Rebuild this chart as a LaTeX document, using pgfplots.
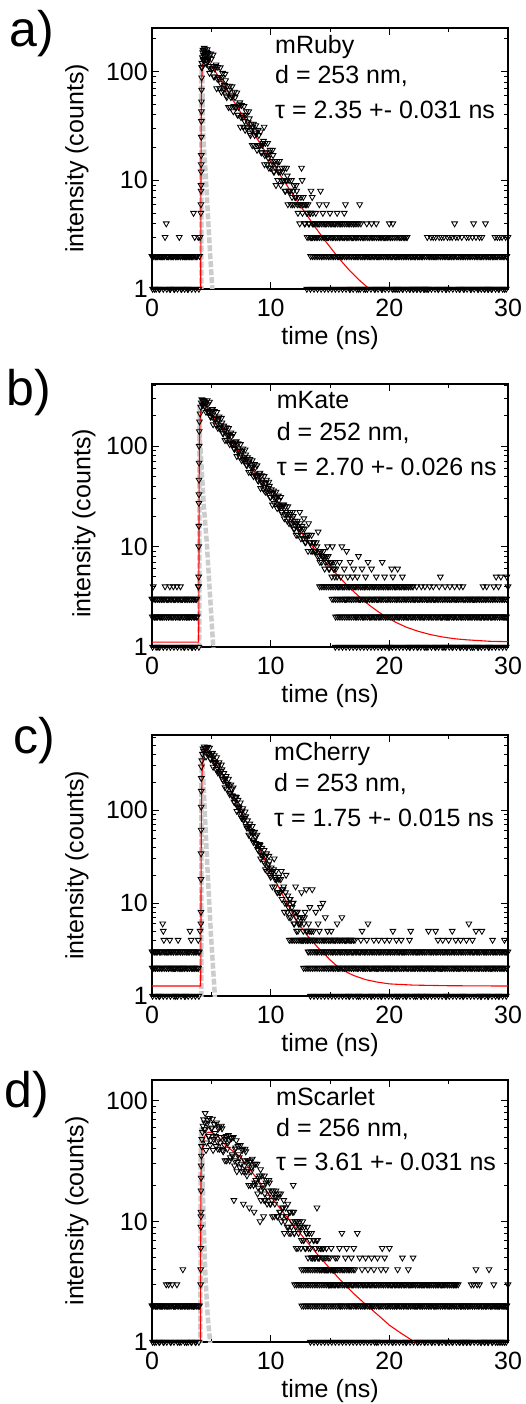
\documentclass[border=0pt]{standalone}
\usepackage{fontspec}
\setmainfont{Liberation Sans}
\usepackage{pgfplots}
\usepackage{pgfplotstable}
\pgfplotsset{compat=1.18}

\pgfplotstableread[row sep=\\]{t y\\
0 2\\0.1 2\\0.2 1\\0.3 2\\0.4 2\\0.5 2\\0.6 1\\0.7 2\\0.8 2\\0.9 2\\
1.0 2\\1.1 3\\1.2 4\\1.3 2\\1.4 2\\1.5 1\\1.6 2\\1.7 2\\1.8 2\\1.9 1\\
2.0 2\\2.1 2\\2.2 2\\2.3 3\\2.4 2\\2.5 1\\2.6 2\\2.7 2\\2.8 2\\2.9 2\\
3.0 1\\3.1 2\\3.2 2\\3.3 2\\3.4 2\\3.5 5\\3.6 3\\3.7 2\\3.8 2\\3.9 3\\4.0 2\\4.05 3\\
4.12 5\\4.125 6\\4.13 8\\4.135 9\\4.14 12\\4.145 14\\4.15 17\\4.155 25\\4.16 35\\4.165 43\\4.17 53\\4.175 68\\4.18 88\\4.185 109\\
4.2 120\\4.25 135\\4.3 158\\4.35 142\\4.4 165\\4.45 138\\4.5 150\\4.55 128\\4.6 145\\4.65 160\\4.7 132\\
4.22 110\\4.28 150\\4.32 128\\4.38 155\\4.42 130\\4.48 160\\4.52 140\\4.58 118\\4.62 152\\4.68 125\\4.72 148\\4.78 112\\
4.8 134\\4.9 107\\5.0 131\\5.1 107\\5.2 90\\5.3 106\\5.4 116\\5.5 86\\5.6 89\\5.7 70\\
5.8 78\\5.9 89\\6.0 67\\6.1 75\\6.2 83\\6.3 58\\6.4 64\\6.5 68\\6.6 47\\6.7 61\\
6.8 59\\6.9 48\\7.0 58\\7.1 47\\7.2 40\\7.3 47\\7.4 52\\7.5 38\\7.6 40\\7.7 31\\
7.8 35\\7.9 40\\8.0 30\\8.1 34\\8.2 37\\8.3 26\\8.4 29\\8.5 31\\8.6 21\\8.7 28\\
8.8 27\\8.9 21\\9.0 26\\9.1 21\\9.2 18\\9.3 21\\9.4 23\\9.45 31\\9.5 17\\9.6 18\\9.7 14\\
9.8 16\\9.9 18\\10.0 13\\10.1 15\\10.2 17\\10.3 12\\10.4 13\\10.5 14\\10.6 10\\10.7 12\\
10.8 12\\10.9 10\\11.0 12\\11.1 10\\11.2 8\\11.3 10\\11.35 13\\11.4 11\\11.5 8\\11.6 8\\11.7 6\\
11.8 7\\11.9 8\\12.0 6\\12.1 7\\12.2 8\\12.3 5\\12.4 6\\12.5 6\\12.6 13\\12.65 10\\12.7 6\\
12.8 6\\12.9 4\\13.0 6\\13.1 5\\13.2 4\\13.3 5\\13.4 8\\13.5 7\\13.6 4\\13.7 3\\
13.8 5\\13.9 3\\14.0 4\\14.1 6\\14.2 8\\14.3 2\\14.4 5\\14.5 3\\14.6 4\\14.7 6\\
14.8 3\\14.9 2\\15.0 5\\15.1 4\\15.2 3\\15.3 2\\15.4 4\\15.5 3\\15.6 5\\15.7 2\\
15.8 3\\15.9 4\\16.0 2\\16.1 3\\16.2 5\\16.3 6\\16.4 2\\16.5 3\\16.6 4\\16.7 1\\
16.8 2\\16.9 3\\17.0 4\\17.1 2\\17.2 3\\17.3 2\\17.4 1\\17.5 6\\17.6 4\\17.7 2\\
17.8 3\\17.9 2\\18.0 1\\18.1 4\\18.2 2\\18.3 3\\18.4 2\\18.5 4\\18.6 3\\18.7 2\\
18.8 1\\18.9 4\\19.0 2\\19.1 3\\19.2 2\\19.3 3\\19.4 1\\19.5 2\\19.6 3\\19.7 2\\
19.8 3\\19.9 2\\20.0 4\\20.1 3\\20.2 2\\20.3 4\\20.4 1\\20.5 2\\20.6 2\\20.7 1\\
20.8 2\\20.9 3\\21.0 2\\21.1 1\\21.2 2\\21.3 3\\21.4 2\\21.5 3\\21.6 2\\21.7 1\\
21.8 2\\21.9 2\\22.0 1\\22.1 2\\22.2 2\\22.3 1\\22.4 2\\22.5 2\\22.6 1\\22.7 2\\
22.8 2\\22.9 1\\23.1 1\\23.2 3\\23.3 1\\23.4 2\\23.5 3\\23.6 2\\23.7 3\\
23.8 2\\23.9 3\\24.0 2\\24.1 1\\24.2 3\\24.3 2\\24.4 3\\24.5 2\\24.6 3\\24.7 2\\
24.8 1\\24.9 3\\25.0 2\\25.1 3\\25.2 2\\25.3 3\\25.4 2\\25.5 4\\25.6 3\\25.7 2\\
25.8 3\\25.9 1\\26.0 2\\26.1 3\\26.2 2\\26.3 1\\26.4 2\\26.5 3\\26.6 2\\26.7 3\\
26.8 2\\26.9 1\\27.0 3\\27.1 4\\27.2 2\\27.3 3\\27.4 2\\27.5 1\\27.6 3\\27.7 2\\
27.8 3\\27.9 2\\28.0 1\\28.1 4\\28.2 2\\28.3 1\\28.4 2\\28.5 2\\28.6 1\\28.7 2\\
28.8 2\\28.9 3\\29.0 2\\29.1 3\\29.2 1\\29.3 3\\29.4 2\\29.5 3\\29.6 2\\29.7 1\\
29.8 3\\29.9 2\\30.0 3\\
}\dataA

\pgfplotstableread[row sep=\\]{t y\\
4.85 97\\4.95 146\\5.05 106\\5.15 143\\5.25 90\\5.35 112\\5.45 70\\5.55 110\\5.65 86\\5.75 109\\
5.85 65\\5.95 97\\6.05 70\\6.15 95\\6.25 60\\6.35 74\\6.45 47\\6.55 74\\6.65 58\\6.75 73\\
6.85 43\\6.95 65\\7.05 47\\7.15 64\\7.25 40\\7.35 50\\7.45 31\\7.55 49\\7.65 38\\7.75 48\\
7.85 29\\7.95 43\\8.05 31\\8.15 43\\8.25 27\\8.35 33\\8.45 21\\8.55 33\\8.65 26\\8.75 32\\
8.85 19\\8.95 29\\9.05 21\\9.15 28\\9.25 18\\9.35 22\\9.48 14\\9.55 22\\9.65 17\\9.75 22\\
9.85 13\\9.95 19\\10.05 14\\10.15 19\\10.25 12\\10.35 15\\10.45 9\\10.55 15\\10.65 12\\10.75 15\\
10.85 9\\10.95 13\\11.05 10\\11.15 13\\11.25 8\\11.38 10\\11.45 6\\11.55 10\\11.65 8\\11.75 10\\
11.85 6\\11.95 9\\12.05 7\\12.15 9\\12.25 6\\12.35 7\\12.45 4\\12.55 7\\12.68 5\\12.75 7\\
12.85 4\\12.95 6\\13.05 5\\13.15 6\\13.25 4\\13.35 5\\13.45 3\\13.55 5\\
}\dataAii

\pgfplotstableread[row sep=\\]{t y\\
0 3\\0.1 4\\0.2 2\\0.3 3\\0.4 2\\0.5 1\\0.6 3\\0.7 2\\0.8 3\\0.9 2\\
1.0 3\\1.1 4\\1.2 2\\1.3 3\\1.4 2\\1.5 4\\1.6 3\\1.7 2\\1.8 4\\1.9 3\\
2.0 2\\2.1 4\\2.2 3\\2.3 2\\2.4 4\\2.5 3\\2.6 2\\2.7 1\\2.8 3\\2.9 2\\
3.0 3\\3.1 2\\3.2 3\\3.3 2\\3.4 1\\3.5 3\\3.6 2\\3.7 3\\3.8 2\\3.9 4\\
3.93 4\\3.935 5\\3.94 10\\3.945 16\\3.95 27\\3.955 33\\3.96 46\\3.965 68\\3.97 100\\3.98 140\\
4.0 175\\4.05 210\\4.1 245\\4.15 270\\4.2 290\\4.25 255\\4.3 285\\4.35 262\\4.4 280\\4.45 250\\
4.5 269\\4.6 230\\4.7 262\\4.8 222\\4.9 199\\5.0 219\\5.1 232\\5.2 188\\5.3 191\\5.4 162\\
5.5 170\\5.6 184\\5.7 150\\5.8 162\\5.9 171\\6.0 133\\6.1 141\\6.2 145\\6.3 115\\6.4 132\\
6.5 129\\6.6 110\\6.7 125\\6.8 107\\6.9 95\\7.0 105\\7.1 111\\7.2 90\\7.3 92\\7.4 78\\
7.5 82\\7.6 89\\7.7 72\\7.8 78\\7.9 82\\8.0 64\\8.1 68\\8.2 70\\8.3 55\\8.4 64\\
8.5 62\\8.6 53\\8.7 61\\8.8 51\\8.9 46\\9.0 51\\9.1 54\\9.2 44\\9.3 44\\9.4 37\\
9.5 39\\9.6 43\\9.7 35\\9.8 38\\9.9 40\\10.0 31\\10.1 33\\10.2 34\\10.3 27\\10.4 31\\
10.5 30\\10.6 26\\10.7 29\\10.8 25\\10.9 22\\11.0 25\\11.1 26\\11.2 21\\11.3 22\\11.4 18\\
11.5 19\\11.6 21\\11.7 17\\11.8 19\\11.9 20\\12.0 15\\12.1 16\\12.2 17\\12.3 13\\12.4 15\\
12.45 22\\12.5 15\\12.6 13\\12.7 15\\12.8 19\\12.9 11\\13.0 12\\13.1 13\\13.2 17\\13.3 11\\13.4 9\\
13.5 10\\13.6 11\\13.7 9\\13.8 9\\13.9 10\\14.0 14\\14.1 8\\14.2 9\\14.3 7\\14.4 8\\
14.5 8\\14.6 7\\14.7 8\\14.8 10\\14.9 6\\15.0 7\\15.1 7\\15.2 10\\15.3 6\\15.4 5\\
15.5 6\\15.6 5\\15.7 4\\15.8 7\\15.9 5\\16.0 10\\16.1 4\\16.2 6\\16.3 3\\16.4 9\\
16.5 5\\16.6 4\\16.7 7\\16.8 3\\16.9 5\\17.0 6\\17.1 4\\17.2 2\\17.3 5\\17.4 8\\
17.5 3\\17.6 4\\17.7 6\\17.8 2\\17.9 4\\18.0 5\\18.1 3\\18.2 7\\18.3 4\\18.4 2\\
18.5 6\\18.6 3\\18.7 4\\18.8 2\\18.9 5\\19.0 3\\19.1 4\\19.2 2\\19.3 3\\19.4 7\\
19.5 4\\19.6 5\\19.7 2\\19.8 3\\19.9 4\\20.0 1\\20.1 3\\20.2 6\\20.3 5\\20.4 2\\
20.5 4\\20.6 3\\20.7 6\\20.8 2\\20.9 4\\21.0 3\\21.1 5\\21.2 2\\21.3 4\\21.4 3\\
21.5 2\\21.6 4\\21.7 1\\21.8 3\\21.9 2\\22.0 4\\22.1 3\\22.2 2\\22.3 4\\22.4 1\\
22.5 3\\22.6 2\\22.7 4\\22.8 3\\22.9 2\\23.0 4\\23.1 1\\23.2 3\\23.3 2\\23.4 4\\
23.5 3\\23.6 2\\23.7 4\\23.8 3\\23.9 1\\24.0 2\\24.1 3\\24.2 4\\24.3 5\\24.4 2\\
24.5 3\\24.6 1\\24.7 4\\24.8 2\\24.9 3\\25.0 2\\25.1 4\\25.2 3\\25.3 1\\25.4 2\\
25.5 4\\25.6 3\\25.7 2\\25.8 3\\25.9 4\\26.0 1\\26.1 2\\26.2 4\\26.3 3\\26.4 2\\
26.5 1\\26.6 3\\26.7 2\\26.8 3\\26.9 2\\27.0 1\\27.1 3\\27.2 2\\27.3 3\\27.4 2\\
27.5 1\\27.6 3\\27.7 2\\27.8 3\\27.9 4\\28.0 2\\28.1 3\\28.2 4\\28.3 2\\28.4 1\\
28.5 3\\28.6 2\\28.7 3\\28.8 4\\28.9 2\\29.0 5\\29.1 3\\29.2 4\\29.3 2\\29.4 5\\
29.5 3\\29.6 2\\29.7 3\\29.8 2\\29.9 5\\30.0 4\\
}\dataB

\pgfplotstableread[row sep=\\]{t y\\
4.55 218\\4.65 284\\4.75 221\\4.85 275\\4.95 194\\5.05 230\\5.15 164\\5.25 222\\5.35 185\\5.45 217\\
5.55 151\\5.65 196\\5.75 153\\5.85 190\\5.95 135\\6.05 159\\6.15 114\\6.25 153\\6.35 128\\6.45 150\\
6.55 104\\6.65 136\\6.75 106\\6.85 132\\6.95 93\\7.05 110\\7.15 79\\7.25 106\\7.35 89\\7.45 104\\
7.55 72\\7.65 94\\7.75 74\\7.85 92\\7.95 65\\8.05 77\\8.15 55\\8.25 74\\8.35 62\\8.45 72\\
8.55 50\\8.65 66\\8.75 51\\8.85 64\\8.95 45\\9.05 53\\9.15 38\\9.25 51\\9.35 43\\9.45 50\\
9.55 35\\9.65 46\\9.75 36\\9.85 44\\9.95 31\\10.05 37\\10.15 26\\10.25 36\\10.35 30\\10.45 35\\
10.55 24\\10.65 32\\10.75 25\\10.85 31\\10.95 22\\11.05 26\\11.15 19\\11.25 25\\11.35 21\\11.45 25\\
11.55 17\\11.65 22\\11.75 17\\11.85 22\\11.95 15\\12.05 18\\12.15 13\\12.25 18\\12.35 15\\12.48 17\\
12.55 12\\12.65 16\\12.75 12\\12.85 15\\12.95 11\\13.05 13\\13.15 9\\13.25 13\\13.35 11\\13.45 13\\
13.55 9\\13.65 11\\13.75 9\\13.85 11\\13.95 8\\14.05 9\\14.15 7\\14.25 9\\14.35 8\\14.45 9\\
14.55 6\\14.65 8\\14.75 7\\14.85 8\\14.95 6\\15.05 7\\15.15 5\\15.25 7\\15.35 6\\15.45 7\\
}\dataBii

\pgfplotstableread[row sep=\\]{t y\\
0 3\\0.1 2\\0.2 3\\0.3 2\\0.4 3\\0.5 2\\0.6 1\\0.7 3\\0.8 2\\0.9 6\\0.95 5\\
1.0 4\\1.1 3\\1.2 2\\1.3 3\\1.4 2\\1.5 4\\1.6 3\\1.7 2\\1.8 3\\1.9 2\\
2.0 1\\2.1 3\\2.2 4\\2.3 2\\2.4 3\\2.5 2\\2.6 3\\2.7 2\\2.8 1\\2.9 3\\
3.0 2\\3.1 3\\3.2 5\\3.3 4\\3.4 2\\3.5 3\\3.6 2\\3.7 3\\3.8 2\\3.9 4\\4.0 3\\4.05 5\\
4.12 6\\4.125 8\\4.13 18\\4.135 34\\4.14 61\\4.145 108\\4.15 160\\4.155 219\\4.16 292\\
4.2 340\\4.25 400\\4.3 455\\4.35 430\\4.4 480\\4.45 460\\
4.5 462\\4.6 411\\4.7 473\\4.8 403\\4.9 358\\5.0 391\\5.1 409\\5.2 328\\5.3 328\\5.4 275\\
5.5 285\\5.6 306\\5.7 245\\5.8 261\\5.9 272\\6.0 207\\6.1 217\\6.2 218\\6.3 169\\6.4 190\\
6.5 182\\6.6 152\\6.7 169\\6.8 141\\6.9 123\\7.0 133\\7.1 137\\7.2 109\\7.3 108\\7.4 90\\
7.5 92\\7.6 98\\7.7 78\\7.8 82\\7.9 85\\8.0 64\\8.1 67\\8.2 67\\8.3 52\\8.4 59\\
8.5 56\\8.6 47\\8.7 52\\8.8 43\\8.9 38\\9.0 41\\9.1 42\\9.2 33\\9.3 33\\9.4 28\\
9.5 27\\9.6 32\\9.7 22\\9.8 26\\9.9 28\\10.0 19\\10.1 21\\10.2 22\\10.3 30\\10.35 15\\10.4 19\\
10.5 18\\10.6 13\\10.7 18\\10.8 13\\10.9 22\\11.0 14\\11.1 15\\11.2 10\\11.3 20\\11.35 10\\11.4 8\\
11.5 9\\11.6 11\\11.7 7\\11.8 9\\11.9 10\\12.0 6\\12.1 15\\12.15 7\\12.2 8\\12.3 5\\12.4 6\\
12.5 6\\12.6 13\\12.65 7\\12.7 4\\12.8 6\\12.9 8\\13.0 14\\13.05 5\\13.1 4\\13.2 6\\13.3 9\\13.4 5\\
13.5 14\\13.6 5\\13.7 4\\13.8 8\\13.9 3\\14.0 6\\14.1 5\\14.2 9\\14.3 3\\14.4 10\\
14.5 4\\14.6 7\\14.7 3\\14.8 5\\14.9 2\\15.0 4\\15.1 5\\15.2 3\\15.3 2\\15.4 4\\
15.5 3\\15.6 6\\15.7 2\\15.8 4\\15.9 3\\16.0 7\\16.1 2\\16.2 3\\16.3 4\\16.4 2\\
16.5 3\\16.6 1\\16.7 4\\16.8 2\\16.9 3\\17.0 2\\17.1 4\\17.2 3\\17.3 2\\17.4 1\\
17.5 3\\17.6 4\\17.7 5\\17.8 2\\17.9 3\\18.0 2\\18.1 4\\18.2 6\\18.3 3\\18.4 2\\
18.5 1\\18.6 3\\18.7 4\\18.8 2\\18.9 3\\19.0 2\\19.1 4\\19.2 3\\19.3 1\\19.4 2\\
19.5 3\\19.6 4\\19.7 2\\19.8 3\\19.9 2\\20.0 4\\20.1 3\\20.2 2\\20.3 5\\20.4 3\\
20.5 2\\20.6 4\\20.7 1\\20.8 3\\20.9 2\\21.0 4\\21.1 3\\21.2 2\\21.3 3\\21.4 1\\
21.5 2\\21.6 3\\21.7 4\\21.8 5\\21.9 2\\22.0 3\\22.1 2\\22.2 1\\22.3 3\\22.4 2\\
22.5 3\\22.6 2\\22.7 1\\22.8 3\\22.9 2\\23.0 3\\23.1 2\\23.2 1\\23.3 5\\23.4 2\\
23.5 3\\23.6 2\\23.7 3\\23.8 2\\23.9 5\\24.0 3\\24.1 4\\24.2 2\\24.3 3\\24.4 2\\
24.5 4\\24.6 3\\24.7 2\\24.8 1\\24.9 3\\25.0 4\\25.1 2\\25.2 3\\25.3 5\\25.4 2\\
25.5 3\\25.6 4\\25.7 2\\25.8 3\\25.9 2\\26.0 4\\26.1 3\\26.2 1\\26.3 2\\26.4 3\\
26.5 4\\26.6 2\\26.7 6\\26.8 3\\26.9 2\\27.0 4\\27.1 3\\27.2 2\\27.3 5\\27.4 3\\
27.5 2\\27.6 3\\27.7 1\\27.8 5\\27.9 2\\28.0 3\\28.1 2\\28.2 3\\28.3 1\\28.4 2\\
28.5 3\\28.6 2\\28.7 4\\28.8 3\\28.9 2\\29.0 3\\29.1 2\\29.2 1\\29.3 3\\29.4 2\\
29.5 3\\29.6 2\\29.7 4\\29.8 3\\29.9 2\\30.0 3\\
}\dataC

\pgfplotstableread[row sep=\\]{t y\\
4.55 374\\4.65 477\\4.75 400\\4.85 465\\4.95 350\\5.05 410\\5.15 290\\5.25 386\\5.35 318\\5.45 368\\
5.55 252\\5.65 325\\5.75 250\\5.85 307\\5.95 214\\6.05 248\\6.15 175\\6.25 231\\6.35 188\\6.45 216\\
6.55 147\\6.65 187\\6.75 143\\6.85 174\\6.95 121\\7.05 139\\7.15 97\\7.25 128\\7.35 105\\7.45 120\\
7.55 82\\7.65 104\\7.75 79\\7.85 96\\7.95 67\\8.05 77\\8.15 54\\8.25 71\\8.35 58\\8.45 67\\
8.55 45\\8.65 58\\8.75 44\\8.85 54\\8.95 37\\9.05 43\\9.15 30\\9.25 39\\9.35 32\\9.45 37\\
9.55 23\\9.65 34\\9.75 24\\9.85 32\\9.95 20\\10.05 24\\10.15 15\\10.25 23\\10.38 18\\10.45 22\\
10.55 13\\10.65 19\\10.75 13\\10.85 18\\10.95 11\\11.05 14\\11.15 8\\11.25 13\\11.38 10\\11.45 12\\
11.55 7\\11.65 11\\11.75 8\\11.85 10\\11.95 6\\12.05 8\\12.18 5\\12.25 8\\12.35 6\\12.45 7\\
12.55 4\\12.68 7\\12.75 5\\12.85 7\\12.95 4\\13.08 5\\13.15 3\\13.25 5\\13.35 4\\13.45 5\\
}\dataCii

\pgfplotstableread[row sep=\\]{t y\\
0 2\\0.1 2\\0.2 1\\0.3 2\\0.4 2\\0.5 2\\0.6 1\\0.7 2\\0.8 2\\0.9 2\\
1.0 1\\1.1 2\\1.2 3\\1.3 2\\1.4 3\\1.5 2\\1.6 1\\1.7 3\\1.8 2\\1.9 2\\
2.0 2\\2.1 3\\2.2 2\\2.3 1\\2.4 2\\2.5 2\\2.6 4\\2.7 2\\2.8 2\\2.9 1\\
3.0 2\\3.1 2\\3.2 2\\3.3 1\\3.4 2\\3.5 2\\3.6 2\\3.7 1\\3.8 2\\3.9 2\\4.0 2\\
4.1 3\\4.105 4\\4.11 6\\4.115 9\\4.12 11\\4.125 12\\4.13 18\\4.135 23\\4.14 29\\4.16 35\\4.18 42\\
4.2 48\\4.25 55\\4.3 62\\4.35 70\\4.4 58\\4.45 66\\4.48 79\\
4.5 58\\4.6 45\\4.7 69\\4.8 51\\4.9 43\\5.0 59\\5.1 71\\5.2 48\\5.3 54\\5.4 42\\
5.5 46\\5.6 59\\5.7 40\\5.8 50\\5.9 59\\6.0 38\\6.1 43\\6.2 48\\6.3 32\\6.4 45\\
6.5 47\\6.6 34\\6.7 49\\6.8 35\\6.9 15\\6.95 29\\7.0 40\\7.1 47\\7.2 31\\7.3 36\\7.4 28\\
7.5 30\\7.6 39\\7.7 14\\7.75 26\\7.8 32\\7.9 38\\8.0 24\\8.1 27\\8.2 13\\8.25 31\\8.3 20\\8.4 28\\
8.5 29\\8.6 12\\8.65 21\\8.7 30\\8.8 21\\8.9 17\\9.0 23\\9.1 10\\9.15 27\\9.2 18\\9.3 20\\9.4 11\\9.45 15\\
9.5 17\\9.6 21\\9.7 14\\9.8 18\\9.9 21\\10.0 14\\10.1 15\\10.2 17\\10.3 11\\10.4 16\\
10.5 16\\10.6 11\\10.7 17\\10.8 12\\10.9 10\\11.0 13\\11.1 15\\11.2 10\\11.3 11\\11.4 9\\
11.5 9\\11.6 12\\11.7 8\\11.8 10\\11.9 20\\11.95 12\\12.0 8\\12.1 9\\12.2 10\\12.3 6\\12.4 9\\
12.5 9\\12.6 7\\12.7 10\\12.8 7\\12.9 6\\13.0 8\\13.1 9\\13.2 6\\13.3 7\\13.4 5\\
13.5 5\\13.6 7\\13.7 5\\13.8 6\\13.9 13\\13.95 7\\14.0 5\\14.1 5\\14.2 6\\14.3 4\\14.4 6\\
14.5 5\\14.6 4\\14.7 6\\14.8 4\\14.9 3\\15.0 5\\15.1 6\\15.2 4\\15.3 4\\15.4 3\\
15.5 4\\15.6 5\\15.7 3\\15.8 6\\15.9 2\\16.0 8\\16.1 4\\16.2 3\\16.3 5\\16.4 6\\
16.5 3\\16.6 4\\16.7 2\\16.8 5\\16.9 3\\17.0 6\\17.1 4\\17.2 2\\17.3 8\\17.4 3\\
17.5 5\\17.6 2\\17.7 4\\17.8 3\\17.9 2\\18.0 5\\18.1 3\\18.2 4\\18.3 2\\18.4 3\\
18.5 5\\18.6 2\\18.7 4\\18.8 3\\18.9 1\\19.0 5\\19.1 3\\19.2 2\\19.3 4\\19.4 6\\
19.5 3\\19.6 5\\19.7 4\\19.8 2\\19.9 3\\20.0 6\\20.1 2\\20.2 3\\20.3 1\\20.4 2\\
20.5 3\\20.6 2\\20.7 4\\20.8 3\\20.9 2\\21.0 3\\21.1 5\\21.2 2\\21.3 3\\21.4 1\\
21.5 2\\21.6 4\\21.7 3\\21.8 2\\21.9 3\\22.0 5\\22.1 2\\22.2 3\\22.3 2\\22.4 1\\
22.5 3\\22.6 2\\22.7 3\\22.8 2\\22.9 3\\23.0 1\\23.1 2\\23.2 3\\23.3 2\\23.4 3\\
23.5 2\\23.6 1\\23.7 3\\23.8 2\\23.9 3\\24.0 2\\24.1 3\\24.2 1\\24.3 2\\24.4 3\\
24.5 2\\24.6 3\\24.7 2\\24.8 1\\24.9 3\\25.0 2\\25.1 3\\25.2 2\\25.3 1\\25.4 3\\
25.5 2\\25.6 3\\25.7 2\\25.8 3\\25.9 1\\26.0 2\\26.1 2\\26.2 1\\26.3 2\\26.4 2\\
26.5 1\\26.6 2\\26.7 2\\26.8 1\\26.9 3\\27.0 2\\27.1 3\\27.2 2\\27.3 4\\27.4 3\\
27.5 2\\27.6 3\\27.7 1\\27.8 2\\27.9 2\\28.0 1\\28.1 2\\28.2 2\\28.3 1\\28.4 4\\
28.5 2\\28.6 2\\28.7 1\\28.8 3\\28.9 2\\29.0 2\\29.1 1\\29.2 2\\29.3 2\\29.4 1\\
29.5 2\\29.6 2\\29.7 1\\29.8 2\\29.9 2\\30.0 3\\
}\dataD

\pgfplotstableread[row sep=\\]{t y\\
4.55 39\\4.65 65\\4.75 51\\4.85 72\\4.95 47\\5.05 60\\5.15 39\\5.25 64\\5.35 51\\5.45 66\\
5.55 40\\5.65 61\\5.75 45\\5.85 62\\5.95 39\\6.05 50\\6.15 32\\6.25 51\\6.35 40\\6.45 52\\
6.55 32\\6.65 49\\6.75 36\\6.85 50\\6.98 32\\7.05 41\\7.15 26\\7.25 42\\7.35 34\\7.45 43\\
7.55 26\\7.65 40\\7.78 29\\7.85 40\\7.95 26\\8.05 32\\8.15 20\\8.28 32\\8.35 26\\8.45 33\\
8.55 20\\8.68 30\\8.75 22\\8.85 30\\8.95 19\\9.05 24\\9.18 15\\9.25 24\\9.35 19\\9.48 24\\
9.55 15\\9.65 22\\9.75 16\\9.85 22\\9.95 14\\10.05 18\\10.15 11\\10.25 18\\10.35 14\\10.45 18\\
10.55 11\\10.65 16\\10.75 12\\10.85 17\\10.95 11\\11.05 13\\11.15 8\\11.25 13\\11.35 11\\11.45 14\\
11.55 8\\11.65 12\\11.75 9\\11.85 12\\11.98 8\\12.05 10\\12.15 6\\12.25 10\\12.35 8\\12.45 10\\
12.55 6\\12.65 9\\12.75 7\\12.85 9\\12.95 6\\13.05 8\\13.15 5\\13.25 8\\13.35 6\\13.45 8\\
13.55 5\\13.65 7\\13.75 5\\13.85 7\\13.98 5\\14.05 6\\14.15 4\\14.25 6\\14.35 5\\14.45 6\\
14.55 4\\14.65 5\\14.75 4\\14.85 5\\14.95 3\\15.05 4\\15.15 3\\15.25 4\\15.35 4\\15.45 5\\
}\dataDii

% bins with 1 count (drawn on the lower axis)
\pgfplotstableread[row sep=\\]{t y\\
0.05 1\\0.35 1\\0.65 1\\0.95 1\\1.25 1\\1.55 1\\1.85 1\\2.15 1\\2.45 1\\2.75 1\\3.05 1\\3.35 1\\3.65 1\\3.95 1\\
}\onesPre

\pgfplotstableread[row sep=\\]{t y\\
13.05 1\\13.35 1\\13.65 1\\13.95 1\\14.25 1\\14.55 1\\14.85 1\\15.15 1\\15.45 1\\15.75 1\\
16.05 1\\16.35 1\\16.65 1\\16.95 1\\17.25 1\\17.55 1\\17.85 1\\18.15 1\\18.45 1\\18.75 1\\
19.05 1\\19.35 1\\19.65 1\\19.95 1\\20.25 1\\20.55 1\\20.85 1\\21.15 1\\21.45 1\\21.75 1\\
22.05 1\\22.35 1\\22.65 1\\22.95 1\\23.25 1\\23.55 1\\23.85 1\\24.15 1\\24.45 1\\24.75 1\\
25.05 1\\25.35 1\\25.65 1\\25.95 1\\26.25 1\\26.55 1\\26.85 1\\27.15 1\\27.45 1\\27.75 1\\
28.05 1\\28.35 1\\28.65 1\\28.95 1\\29.25 1\\29.55 1\\29.85 1\\
}\onesTail

% densely populated count levels 2, 3 and 4 (bins of the background rows)
\pgfplotstableread[row sep=\\]{t r2 r3 r4\\
0.02 2 3 4\\0.17 2 3 4\\0.32 2 3 4\\0.47 2 3 4\\0.62 2 3 4\\0.77 2 3 4\\0.92 2 3 4\\1.07 2 3 4\\1.22 2 3 4\\
1.37 2 3 4\\1.52 2 3 4\\1.67 2 3 4\\1.82 2 3 4\\1.97 2 3 4\\2.12 2 3 4\\2.27 2 3 4\\2.42 2 3 4\\2.57 2 3 4\\
2.72 2 3 4\\2.87 2 3 4\\3.02 2 3 4\\3.17 2 3 4\\3.32 2 3 4\\3.47 2 3 4\\3.62 2 3 4\\3.77 2 3 4\\3.92 2 3 4\\
11.42 2 3 4\\11.57 2 3 4\\11.72 2 3 4\\11.87 2 3 4\\12.02 2 3 4\\12.17 2 3 4\\12.32 2 3 4\\12.47 2 3 4\\
12.62 2 3 4\\12.77 2 3 4\\12.92 2 3 4\\13.07 2 3 4\\13.22 2 3 4\\13.37 2 3 4\\13.52 2 3 4\\13.67 2 3 4\\
13.82 2 3 4\\13.97 2 3 4\\14.12 2 3 4\\14.27 2 3 4\\14.42 2 3 4\\14.57 2 3 4\\14.72 2 3 4\\14.87 2 3 4\\
15.02 2 3 4\\15.17 2 3 4\\15.32 2 3 4\\15.47 2 3 4\\15.62 2 3 4\\15.77 2 3 4\\15.92 2 3 4\\16.07 2 3 4\\
16.22 2 3 4\\16.37 2 3 4\\16.52 2 3 4\\16.67 2 3 4\\16.82 2 3 4\\16.97 2 3 4\\17.12 2 3 4\\17.27 2 3 4\\
17.42 2 3 4\\17.57 2 3 4\\17.72 2 3 4\\17.87 2 3 4\\18.02 2 3 4\\18.17 2 3 4\\18.32 2 3 4\\18.47 2 3 4\\
18.62 2 3 4\\18.77 2 3 4\\18.92 2 3 4\\19.07 2 3 4\\19.22 2 3 4\\19.37 2 3 4\\19.52 2 3 4\\19.67 2 3 4\\
19.82 2 3 4\\19.97 2 3 4\\20.12 2 3 4\\20.27 2 3 4\\20.42 2 3 4\\20.57 2 3 4\\20.72 2 3 4\\20.87 2 3 4\\
21.02 2 3 4\\21.17 2 3 4\\21.32 2 3 4\\21.47 2 3 4\\21.62 2 3 4\\21.77 2 3 4\\21.92 2 3 4\\22.07 2 3 4\\
22.22 2 3 4\\22.37 2 3 4\\22.52 2 3 4\\22.67 2 3 4\\22.82 2 3 4\\22.97 2 3 4\\23.12 2 3 4\\23.27 2 3 4\\
23.42 2 3 4\\23.57 2 3 4\\23.72 2 3 4\\23.87 2 3 4\\24.02 2 3 4\\24.17 2 3 4\\24.32 2 3 4\\24.47 2 3 4\\
24.62 2 3 4\\24.77 2 3 4\\24.92 2 3 4\\25.07 2 3 4\\25.22 2 3 4\\25.37 2 3 4\\25.52 2 3 4\\25.67 2 3 4\\
25.82 2 3 4\\25.97 2 3 4\\26.12 2 3 4\\26.27 2 3 4\\26.42 2 3 4\\26.57 2 3 4\\26.72 2 3 4\\26.87 2 3 4\\
27.02 2 3 4\\27.17 2 3 4\\27.32 2 3 4\\27.47 2 3 4\\27.62 2 3 4\\27.77 2 3 4\\27.92 2 3 4\\28.07 2 3 4\\
28.22 2 3 4\\28.37 2 3 4\\28.52 2 3 4\\28.67 2 3 4\\28.82 2 3 4\\28.97 2 3 4\\29.12 2 3 4\\29.27 2 3 4\\
29.42 2 3 4\\29.57 2 3 4\\29.72 2 3 4\\29.87 2 3 4\\
}\rows

\pgfplotsset{
  tcspc panel/.style={
    scale only axis, width=356pt,
    xmin=0, xmax=30, ymin=1,
    xtick={0,10,20,30}, xticklabels={0,10,20,30},
    minor xtick={5,15,25},
    ytick={1,10,100}, yticklabels={1,10,100},
    minor ytick={2,3,4,5,6,7,8,9,20,30,40,50,60,70,80,90,200,300,400,500,600},
    tick align=inside, xtick pos=both, ytick pos=both,
    major tick length=7pt, minor tick length=4pt,
    every tick/.append style={black, line width=0.9pt},
    axis line style={black, line width=1.2pt},
    tick label style={font=\fontsize{25}{30}\selectfont},
    xticklabel style={anchor=north, inner sep=0pt, yshift=-10pt},
    yticklabel style={anchor=east, inner sep=0pt, xshift=-4pt},
    xlabel={time (ns)}, ylabel={intensity (counts)},
    every axis x label/.style={at={(axis description cs:0.5,0)}, anchor=center, yshift=-49.5pt, font=\fontsize{25}{30}\selectfont},
    every axis y label/.style={at={(axis description cs:-0.2107,0.5)}, anchor=center, rotate=90, font=\fontsize{25}{30}\selectfont},
  },
  tcspc data/.style={only marks, mark=triangle, mark size=3.3pt, mark options={rotate=180, line width=0.85pt, black, solid}},
  tcspc irf/.style={no marks, line width=4.5pt, color=black!20, dash pattern=on 6pt off 2pt},
  tcspc fit/.style={no marks, color=red, line width=1.1pt},
}

\begin{document}
\begin{tikzpicture}[x=1pt,y=1pt]
\path[use as bounding box] (0,0) rectangle (526,-1404);

% ---------------- a) mRuby
\begin{axis}[ymode=log, tcspc panel, at={(152pt,-289pt)}, anchor=south west, height=261pt, ymax=252]
\addplot[tcspc irf] table[row sep=\\]{t y\\4.15 0.8\\4.17 80\\4.2 150\\4.26 60\\4.33 25\\4.55 10\\4.75 4\\4.95 1.7\\5.08 1\\5.12 0.8\\};
\addplot[tcspc data] table {\dataA};
\addplot[tcspc data] table {\dataAii};
\addplot[tcspc data] table {\onesPre};
\addplot[tcspc data] table {\onesTail};
\addplot[tcspc data, restrict x to domain=0:3.85] table[y=r2] {\rows};
\addplot[tcspc data, restrict x to domain=13.3:30] table[y=r2] {\rows};
\addplot[tcspc data, restrict x to domain=13:21.6] table[y=r3] {\rows};
\addplot[tcspc data, restrict x to domain=13.5:17.5] table[y=r4] {\rows};
\addplot[tcspc fit] table[row sep=\\]{t y\\
0 0.5\\4.1 0.5\\4.12 5\\4.14 30\\4.17 70\\4.22 100\\4.3 122\\4.4 131\\4.5 134\\4.6 135\\4.8 124.5\\5.1 110.2\\5.6 89.9\\6.1 73.4\\6.6 59.9\\7.1 49.0\\7.6 40.0\\8.1 32.7\\8.6 26.8\\9.1 21.9\\9.6 18.0\\10.1 14.8\\10.6 12.1\\11.1 10.0\\11.6 8.2\\12.1 6.8\\12.6 5.6\\13.1 4.7\\13.6 3.9\\14.1 3.29\\14.6 2.77\\15.1 2.36\\15.6 2.01\\16.1 1.73\\16.6 1.50\\17.1 1.32\\17.6 1.17\\18.1 1.05\\18.6 0.94\\19.1 0.86\\19.6 0.8\\};
\end{axis}

% ---------------- b) mKate
\begin{axis}[ymode=log, tcspc panel, at={(152pt,-647pt)}, anchor=south west, height=263pt, ymax=414,
  every axis y label/.style={at={(axis description cs:-0.191,0.4696)}, anchor=center, rotate=90, font=\fontsize{25}{30}\selectfont}]
\addplot[tcspc irf] table[row sep=\\]{t y\\3.98 0.8\\4.0 150\\4.02 260\\4.04 114\\4.18 62\\4.37 25\\4.6 11.6\\4.88 3.4\\5.16 1\\5.2 0.8\\};
\addplot[tcspc data] table {\dataB};
\addplot[tcspc data] table {\dataBii};
\addplot[tcspc data] table {\onesPre};
\addplot[tcspc data, restrict x to domain=15.2:30] table {\onesTail};
\addplot[tcspc data, restrict x to domain=0:3.9] table[y=r2] {\rows};
\addplot[tcspc data, restrict x to domain=0:3.9] table[y=r3] {\rows};
\addplot[tcspc data, restrict x to domain=15.4:30] table[y=r2] {\rows};
\addplot[tcspc data, restrict x to domain=15.1:30] table[y=r3] {\rows};
\addplot[tcspc data, restrict x to domain=14:22] table[y=r4] {\rows};
\addplot[tcspc fit] table[row sep=\\]{t y\\
0 1.12\\3.93 1.12\\3.95 3\\3.97 40\\4.0 120\\4.05 180\\4.1 215\\4.2 240\\4.3 252\\4.46 256\\4.96 213\\5.46 177\\5.96 147\\6.46 123\\6.96 102\\7.46 85.1\\7.96 71\\8.46 59.1\\8.96 49.3\\9.46 41.1\\9.96 34.3\\10.46 28.7\\10.96 24.0\\11.46 20.2\\11.96 17.0\\12.46 14.3\\12.96 12.1\\13.46 10.2\\13.96 8.66\\14.46 7.38\\14.96 6.32\\15.46 5.44\\15.96 4.71\\16.46 4.1\\16.96 3.59\\17.46 3.17\\17.96 2.82\\18.46 2.53\\18.96 2.29\\19.46 2.09\\20.46 1.78\\21.46 1.57\\22.46 1.43\\23.46 1.33\\24.46 1.26\\25.46 1.21\\26.46 1.18\\27.46 1.16\\28.46 1.14\\30 1.13\\};
\end{axis}

% ---------------- c) mCherry
\begin{axis}[ymode=log, tcspc panel, at={(152pt,-996pt)}, anchor=south west, height=261pt, ymax=640]
\addplot[tcspc irf] table[row sep=\\]{t y\\4.15 0.8\\4.17 200\\4.22 420\\4.3 250\\4.41 123\\4.55 50\\4.7 20\\4.97 4.5\\5.3 1\\5.35 0.8\\};
\addplot[tcspc data] table {\dataC};
\addplot[tcspc data] table {\dataCii};
\addplot[tcspc data] table {\onesPre};
\addplot[tcspc data, restrict x to domain=13.2:30] table {\onesTail};
\addplot[tcspc data, restrict x to domain=0:4] table[y=r2] {\rows};
\addplot[tcspc data, restrict x to domain=0:4] table[y=r3] {\rows};
\addplot[tcspc data, restrict x to domain=12.7:30] table[y=r2] {\rows};
\addplot[tcspc data, restrict x to domain=13.1:30] table[y=r3] {\rows};
\addplot[tcspc data, restrict x to domain=11.5:17] table[y=r4] {\rows};
\addplot[tcspc fit] table[row sep=\\]{t y\\
0 1.28\\4.1 1.28\\4.12 3\\4.14 30\\4.17 120\\4.22 250\\4.3 360\\4.4 420\\4.56 442\\4.8 415\\5.0 380\\5.5 297\\6.1 219\\6.5 173\\7.0 129\\7.5 96\\8.0 71.5\\8.5 53.2\\9.0 39.6\\9.5 29.5\\10.0 22.0\\10.5 16.4\\11.0 12.3\\11.5 9.3\\12.0 7.1\\12.5 5.7\\13.0 4.6\\13.5 3.9\\14.0 3.3\\14.5 2.85\\15.0 2.45\\15.5 2.15\\16.0 1.93\\16.5 1.78\\17.0 1.66\\18.0 1.5\\19.0 1.41\\20.0 1.35\\22.0 1.31\\25 1.29\\30 1.28\\};
\end{axis}

% ---------------- d) mScarlet
\begin{axis}[ymode=log, tcspc panel, at={(152pt,-1342pt)}, anchor=south west, height=262pt, ymax=149]
\addplot[tcspc irf] table[row sep=\\]{t y\\4.08 0.8\\4.1 30\\4.15 60\\4.25 30\\4.35 10\\4.5 3.5\\4.7 1.6\\4.9 1\\4.95 0.8\\};
\addplot[tcspc data] table {\dataD};
\addplot[tcspc data] table {\dataDii};
\addplot[tcspc data] table {\onesPre};
\addplot[tcspc data, restrict x to domain=13.3:30] table {\onesTail};
\addplot[tcspc data, restrict x to domain=0:3.9] table[y=r2] {\rows};
\addplot[tcspc data, restrict x to domain=12.6:30] table[y=r2] {\rows};
\addplot[tcspc data, restrict x to domain=12:25.8] table[y=r3] {\rows};
\addplot[tcspc data, restrict x to domain=12.5:17] table[y=r4] {\rows};
\addplot[tcspc fit] table[row sep=\\]{t y\\
0 0.5\\4.08 0.5\\4.1 5\\4.13 25\\4.2 38\\4.3 44\\4.45 51\\4.6 54\\4.76 55\\5.2 54\\5.6 50\\6.0 45\\6.5 40.5\\7.0 37\\7.43 34.5\\8 29.1\\9 21.6\\10 16.1\\11 12.1\\12 9.1\\13 6.9\\14 5.25\\15 4.06\\16 3.17\\17 2.52\\18 2.05\\19 1.69\\20 1.38\\21 1.18\\22 1.02\\23 0.9\\};
\end{axis}

% panel letters
\node[anchor=base west, inner sep=0pt, font=\fontsize{50}{60}\selectfont] at (9.5,-46.7) {a)};
\node[anchor=base west, inner sep=0pt, font=\fontsize{50}{60}\selectfont] at (6.5,-405) {b)};
\node[anchor=base west, inner sep=0pt, font=\fontsize{50}{60}\selectfont] at (13,-753) {c)};
\node[anchor=base west, inner sep=0pt, font=\fontsize{50}{60}\selectfont] at (4.7,-1107) {d)};

% annotations
\begin{scope}[every node/.style={anchor=base west, inner sep=0pt, font=\fontsize{25}{30}\selectfont}]
\node at (275,-54) {mRuby};
\node at (275,-84) {d = 253 nm,};
\node at (275,-118.3) {τ = 2.35 +- 0.031 ns};
\node at (276.7,-408.3) {mKate};
\node at (276.7,-440.7) {d = 252 nm,};
\node at (276.7,-475) {τ = 2.70 +- 0.026 ns};
\node at (274,-760) {mCherry};
\node at (274,-791.7) {d = 253 nm,};
\node at (274,-826) {τ = 1.75 +- 0.015 ns};
\node at (276,-1105.7) {mScarlet};
\node at (276,-1136.7) {d = 256 nm,};
\node at (276,-1170.7) {τ = 3.61 +- 0.031 ns};
\end{scope}
\end{tikzpicture}
\end{document}
